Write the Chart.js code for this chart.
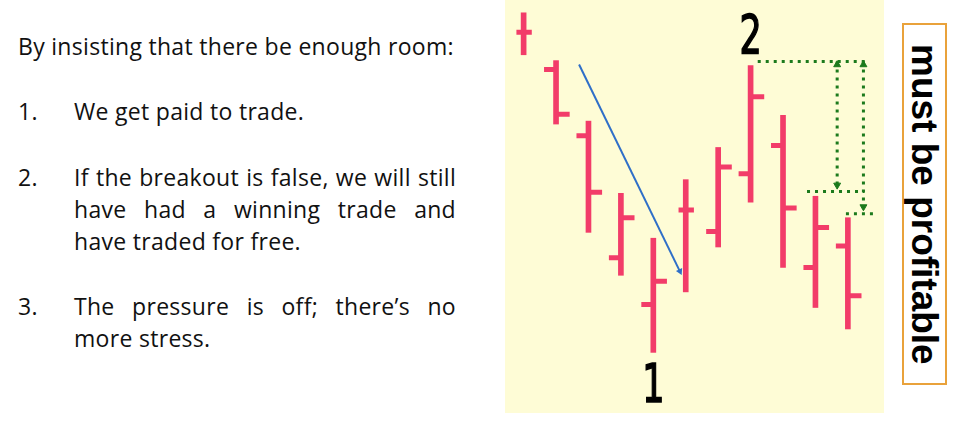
<!DOCTYPE html>
<html>
<head>
<meta charset="utf-8">
<script src="https://cdn.jsdelivr.net/npm/chart.js@4.4.1/dist/chart.umd.min.js"></script>
<style>
  html, body { margin: 0; padding: 0; background: #fff; }
  body { width: 959px; height: 423px; position: relative; overflow: hidden; font-family: "Open Sans", sans-serif; color: #111; }
  .txt { position: absolute; font-size: 23px; line-height: 32px; letter-spacing: 0.3px; }
  .num { position: absolute; left: 18px; }
  .body { position: absolute; left: 74px; width: 382px; }
  .just { text-align: justify; text-align-last: justify; white-space: nowrap; }
  #chartBox { position: absolute; left: 505px; top: 0; width: 379px; height: 413px; background: #fefcd6; }
  #note { position: absolute; left: 902px; top: 23px; width: 41px; height: 358px; border: 2px solid #e9a23b;
          writing-mode: vertical-rl; font-family: "Liberation Sans", Arial, sans-serif; font-weight: bold;
          font-size: 37px; line-height: 41px; text-align: center; color: #000; }
</style>
</head>
<body>
<div class="txt" style="left:18px; top:30px;">By insisting that there be enough room:</div>

<div class="txt" style="top:95px; left:0; width:470px;">
  <div class="num">1.</div>
  <div class="body">We get paid to trade.</div>
</div>

<div class="txt" style="top:161px; left:0; width:470px;">
  <div class="num">2.</div>
  <div class="body">
    <div class="just">If the breakout is false, we will still</div>
    <div class="just">have had a winning trade and</div>
    <div>have traded for free.</div>
  </div>
</div>

<div class="txt" style="top:290px; left:0; width:470px;">
  <div class="num">3.</div>
  <div class="body">
    <div class="just">The pressure is off; there’s no</div>
    <div>more stress.</div>
  </div>
</div>

<div id="chartBox"><canvas id="barChart"></canvas></div>
<div id="note">must be profitable</div>

<script>
// price bars, left to right
const sessions = [1, 2, 3, 4, 5, 6, 7, 8, 9, 10, 11];
const highs  = [101, 88.75, 73.25, 54.75, 43.25, 58.25, 66.5, 87.5, 74.75, 54, 48.5];
const lows   = [90.25, 72.5, 44.75, 33.75, 14, 29.5, 41, 52.5, 35.75, 25.5, 20];
const opens  = [96, 86.5, 69.5, 38.25, 26.25, 50.5, 45, 59.75, 67, 35.75, 41.25];
const closes = [96, 75, 55, 48.5, 32.25, 50.5, 61.5, 79.5, 51, 46, 28.5];

// swing labels: text and the bar they sit on
const swingLabels = ['1', '2'];
const swingBars = [4, 7];
const swingLevels = [1.25, 90.75];

// room measurement (green dotted)
const targetLevel = 88.5;
const stopLevels = [55.25, 49.5];

// trend arrow (blue)
const trendFrom = { x: 1.71, y: 87.75 };
const trendTo = { x: 4.82, y: 34.75 };

const barColor = '#f23c69';
const green = '#1c7a1c';

const ranges = sessions.map((s, i) => ({ x: i, y: [lows[i], highs[i]] }));

function tickPoints(values, len) {
    const pts = [];
    values.forEach((v, i) => {
        // the two "+" bars have shorter ticks
        const l = opens[i] === closes[i] ? len * 0.6 : len;
        pts.push({ x: i + l, y: v });
        pts.push({ x: i, y: v });
        pts.push({ x: i, y: null });
    });
    return pts;
}

function dotted(points) {
    return {
        type: 'line',
        data: points,
        borderColor: green,
        borderWidth: 3,
        borderDash: [3, 5],
        borderCapStyle: 'butt',
        pointRadius: 0,
        spanGaps: false
    };
}

const labelPlugin = {
    id: 'swingLabels',
    afterDatasetsDraw(chart) {
        const { ctx, scales } = chart;
        ctx.save();
        ctx.fillStyle = '#000';
        ctx.strokeStyle = '#000';
        ctx.lineWidth = 1.6;
        ctx.textAlign = 'center';
        ctx.textBaseline = 'alphabetic';
        ctx.font = '54px "Liberation Sans Narrow", "DejaVu Sans Condensed", sans-serif';
        swingLabels.forEach((t, i) => {
            const px = scales.x.getPixelForValue(swingBars[i]);
            const py = scales.y.getPixelForValue(swingLevels[i]);
            ctx.save();
            ctx.translate(px, py);
            ctx.scale(0.72, 1);
            ctx.fillText(t, 0, 0);
            ctx.strokeText(t, 0, 0);
            ctx.restore();
        });
        ctx.restore();
    }
};

const ctx = document.getElementById('barChart').getContext('2d');

const chart = new Chart(ctx, {
    type: 'bar',
    data: {
        datasets: [
            {
                label: 'range',
                data: ranges,
                backgroundColor: barColor,
                barThickness: 5,
                borderSkipped: false
            },
            {
                type: 'line',
                label: 'open',
                data: tickPoints(opens, -0.37),
                borderColor: barColor,
                borderWidth: 5,
                borderCapStyle: 'butt',
                pointRadius: 0,
                spanGaps: false
            },
            {
                type: 'line',
                label: 'close',
                data: tickPoints(closes, 0.42),
                borderColor: barColor,
                borderWidth: 5,
                borderCapStyle: 'butt',
                pointRadius: 0,
                spanGaps: false
            },
            dotted([{ x: 7.22, y: targetLevel }, { x: 10.6, y: targetLevel }]),
            dotted([{ x: 8.74, y: stopLevels[0] }, { x: 10.51, y: stopLevels[0] }]),
            dotted([{ x: 9.94, y: stopLevels[1] }, { x: 10.9, y: stopLevels[1] }]),
            dotted([{ x: 9.67, y: targetLevel }, { x: 9.67, y: stopLevels[0] + 1 }]),
            dotted([{ x: 10.48, y: targetLevel }, { x: 10.48, y: stopLevels[1] + 1 }]),
            {
                type: 'scatter',
                label: 'heads',
                data: [
                    { x: 9.67, y: targetLevel - 0.8 },
                    { x: 10.48, y: targetLevel - 0.8 },
                    { x: 9.67, y: stopLevels[0] + 1.6 },
                    { x: 10.48, y: stopLevels[1] + 1.8 }
                ],
                pointStyle: 'triangle',
                rotation: [0, 0, 180, 180],
                radius: 4,
                backgroundColor: green,
                borderColor: green,
                borderWidth: 1
            },
            {
                type: 'line',
                label: 'trend',
                data: [trendFrom, trendTo],
                borderColor: '#2f6fc8',
                borderWidth: 2,
                pointRadius: [0, 4],
                pointStyle: 'triangle',
                pointRotation: 154,
                pointBackgroundColor: '#2f6fc8',
                pointBorderWidth: 0
            }
        ]
    },
    options: {
        responsive: true,
        maintainAspectRatio: false,
        animation: false,
        layout: { padding: 0 },
        plugins: {
            legend: { display: false },
            tooltip: { enabled: false }
        },
        scales: {
            x: {
                type: 'linear',
                display: false,
                offset: false,
                min: -0.42,
                max: 10.96
            },
            y: {
                type: 'linear',
                display: false,
                min: -0.25,
                max: 103
            }
        }
    },
    plugins: [labelPlugin]
});
</script>
</body>
</html>
